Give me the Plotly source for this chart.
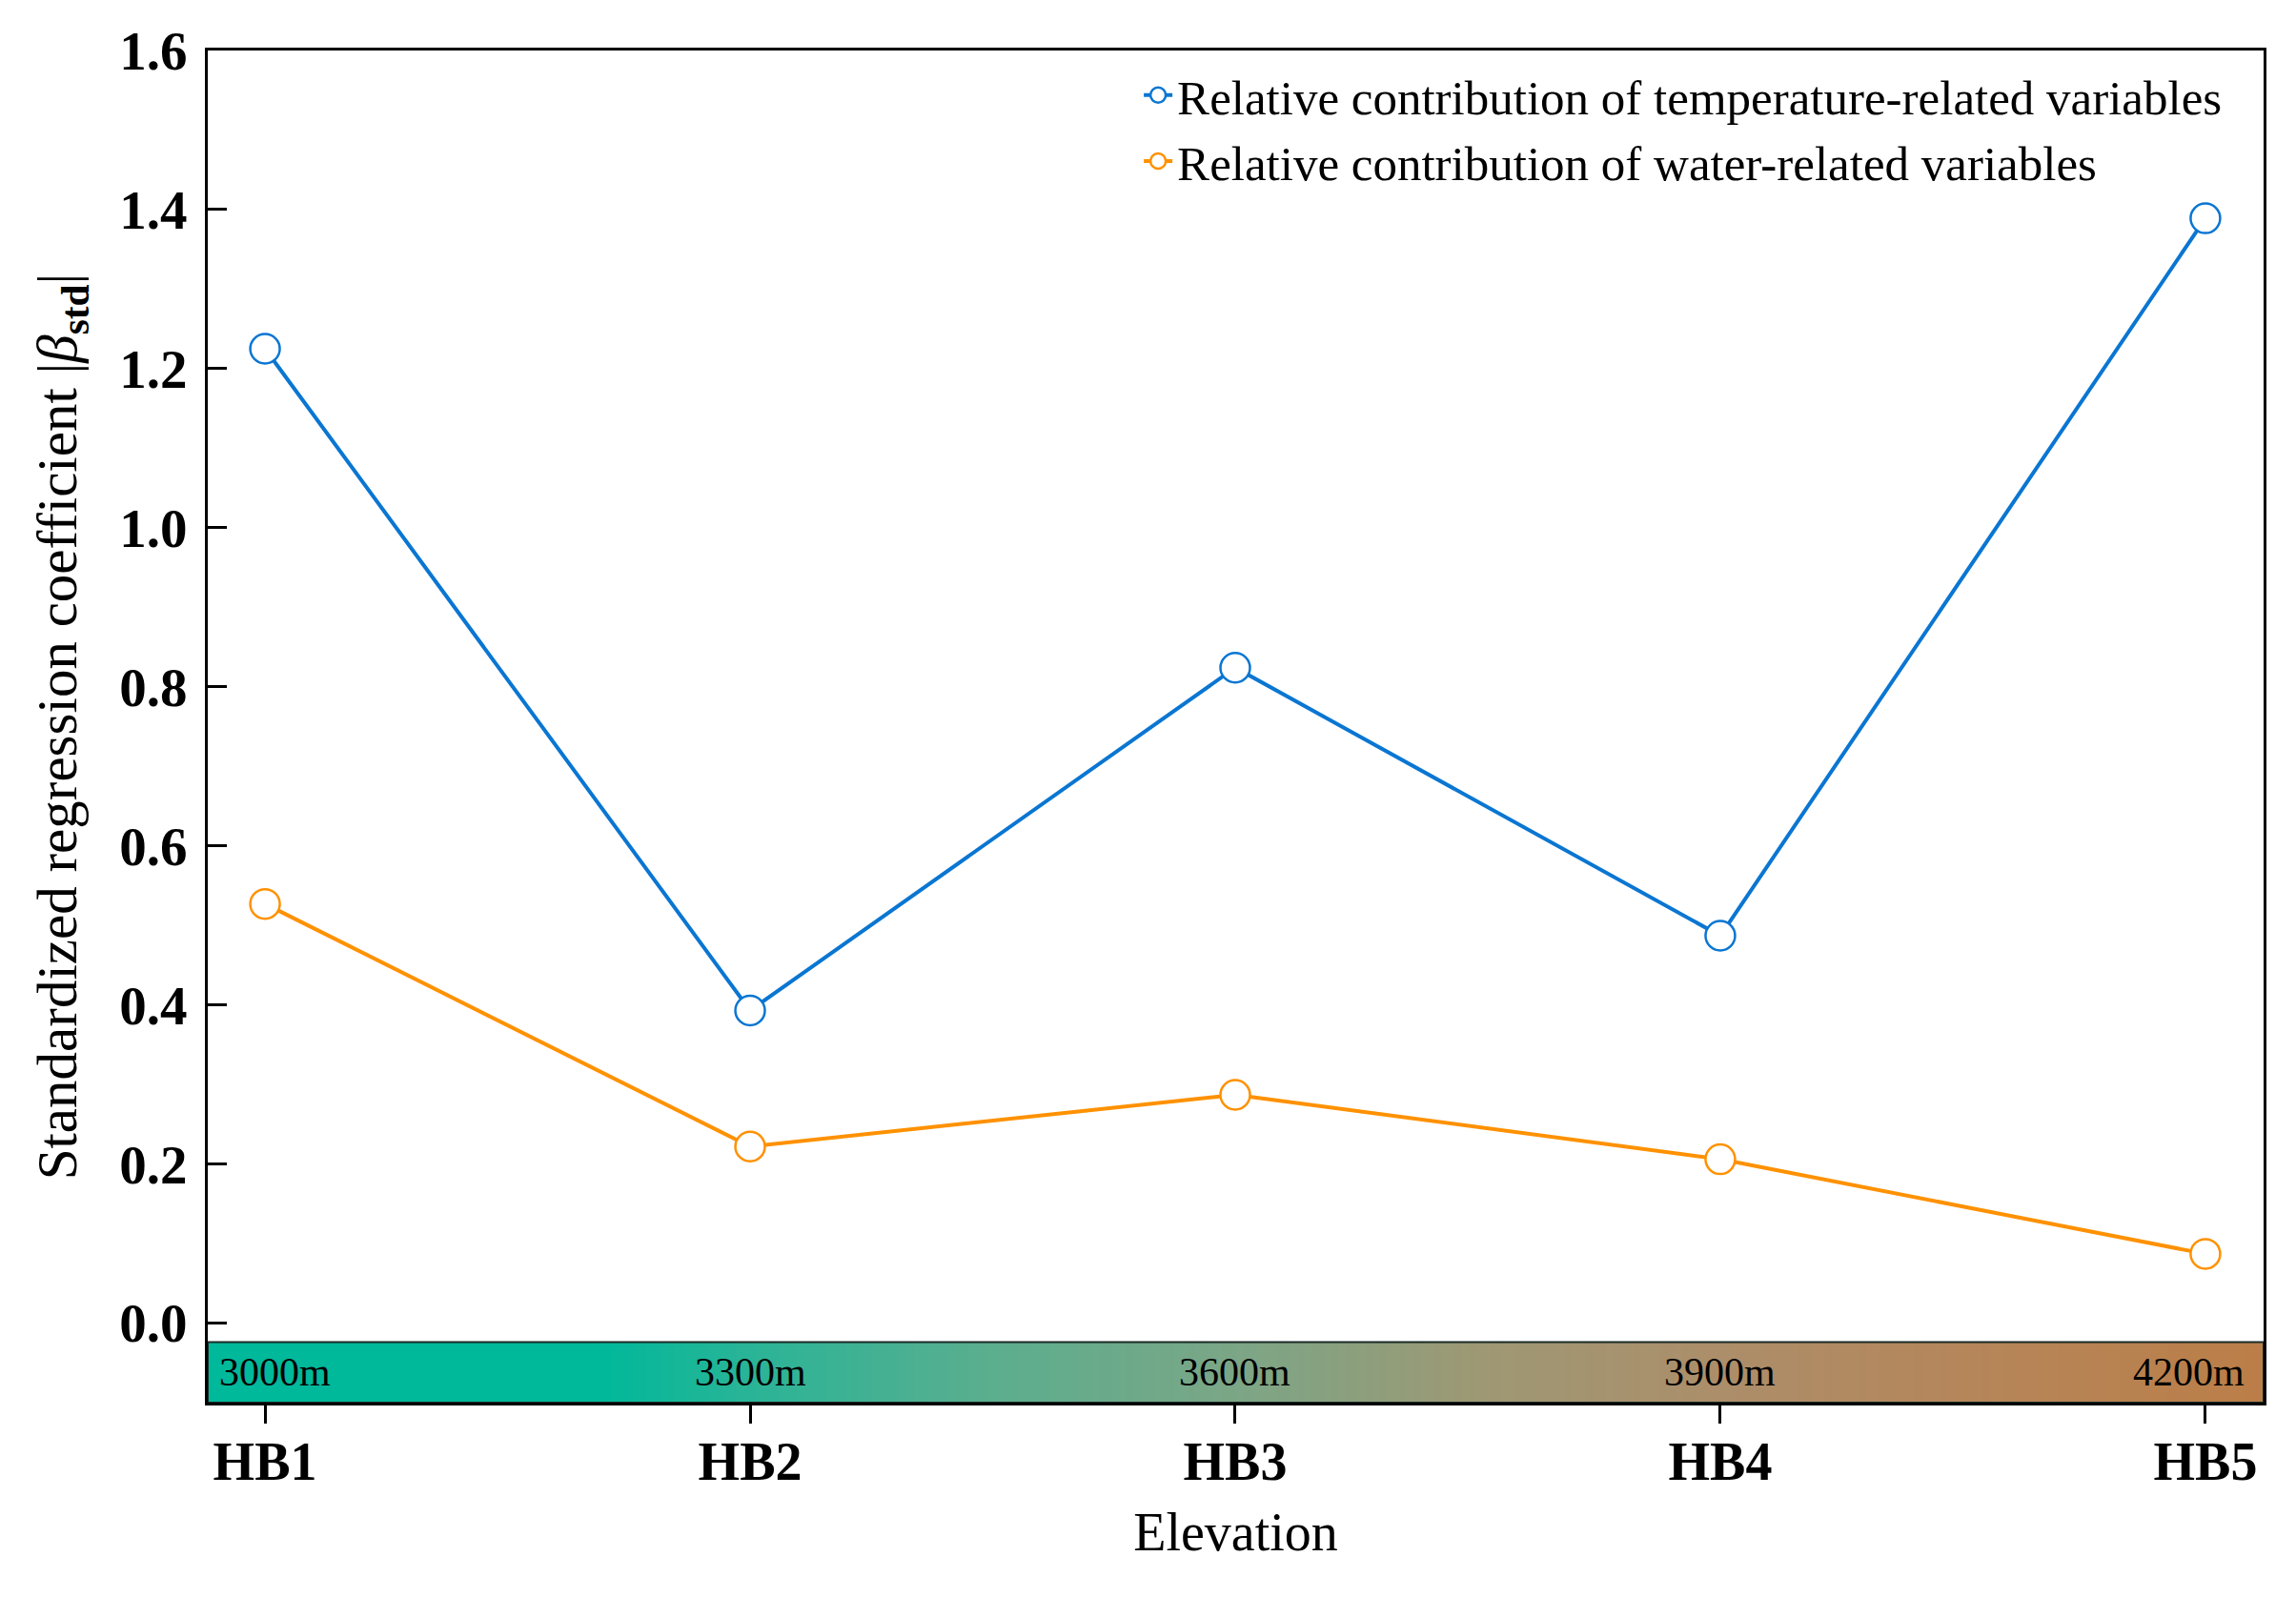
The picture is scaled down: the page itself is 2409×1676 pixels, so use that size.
import numpy as np
import plotly.graph_objects as go

# ---- data ----
sites = ["HB1", "HB2", "HB3", "HB4", "HB5"]
elevations = ["3000m", "3300m", "3600m", "3900m", "4200m"]
temp_contrib = [1.225, 0.393, 0.824, 0.487, 1.389]
water_contrib = [0.527, 0.222, 0.287, 0.206, 0.087]
y_ticks = [0.0, 0.2, 0.4, 0.6, 0.8, 1.0, 1.2, 1.4, 1.6]

x_idx = list(range(len(sites)))
X_RANGE = [-0.118, 4.12]
Y_RANGE = [-0.1, 1.6]
BAR_TOP = -0.024

BLUE = "#0A76D2"
ORANGE = "#FF9100"

fig = go.Figure()

# elevation gradient strip
edges = np.linspace(X_RANGE[0], X_RANGE[1], 301)
centers = (edges[:-1] + edges[1:]) / 2
span = X_RANGE[1] - X_RANGE[0]
def n(v):
    return (v - X_RANGE[0]) / span
grad_stops = [
    (n(X_RANGE[0]), "#00B89A"),
    (n(0.69), "#00B89A"),
    (n(1.0), "#2AB497"),
    (n(1.5), "#5BAE8E"),
    (n(2.0), "#7BA686"),
    (n(2.5), "#9E9874"),
    (n(3.0), "#AC8E6A"),
    (n(3.5), "#B5865A"),
    (1.0, "#BB7E48"),
]
fig.add_trace(go.Heatmap(
    x=edges, y=[Y_RANGE[0], BAR_TOP], z=[centers],
    colorscale=[[p, c] for p, c in grad_stops],
    zmin=X_RANGE[0], zmax=X_RANGE[1],
    showscale=False, hoverinfo="skip",
))

fig.add_trace(go.Scatter(
    x=x_idx, y=temp_contrib, mode="lines+markers",
    name="Relative contribution of temperature-related variables",
    line=dict(color=BLUE, width=4),
    marker=dict(symbol="circle", size=31, color="white", line=dict(color=BLUE, width=2.5)),
))
fig.add_trace(go.Scatter(
    x=x_idx, y=water_contrib, mode="lines+markers",
    name="Relative contribution of water-related variables",
    line=dict(color=ORANGE, width=4),
    marker=dict(symbol="circle", size=31, color="white", line=dict(color=ORANGE, width=2.5)),
))

# border of the strip
fig.add_shape(type="rect", xref="x", yref="y", x0=X_RANGE[0], x1=X_RANGE[1],
              y0=Y_RANGE[0], y1=BAR_TOP, line=dict(color="#1b2b27", width=2), layer="above")

# elevation labels in strip
for i, lab in enumerate(elevations):
    if i == 0:
        kw = dict(x=X_RANGE[0], xanchor="left", xshift=10)
    elif i == len(elevations) - 1:
        kw = dict(x=X_RANGE[1], xanchor="right", xshift=-18)
    else:
        kw = dict(x=x_idx[i], xanchor="center")
    fig.add_annotation(y=-0.062, yanchor="middle", text=lab, showarrow=False,
                       font=dict(family="Liberation Serif", size=42, color="black"), **kw)

serif = "Liberation Serif, Times New Roman, serif"
fig.update_layout(
    width=2409, height=1676,
    margin=dict(l=218, r=34, t=53, b=204),
    paper_bgcolor="white", plot_bgcolor="white",
    font=dict(family=serif, color="black"),
    showlegend=True,
    legend=dict(x=0.453, y=0.995, xanchor="left", yanchor="top",
                font=dict(family=serif, size=51, color="black"),
                bgcolor="rgba(0,0,0,0)", itemwidth=30, tracegroupgap=0),
    xaxis=dict(
        range=X_RANGE, tickmode="array", tickvals=x_idx, ticktext=sites,
        showgrid=False, zeroline=False, showline=True, linecolor="black", linewidth=3,
        mirror=True, ticks="outside", ticklen=19, tickwidth=3, tickcolor="black",
        ticklabelstandoff=-8,
        tickfont=dict(family=serif, size=56, color="black", weight="bold"),
        title=dict(text="Elevation", font=dict(family=serif, size=56, color="black"), standoff=24),
    ),
    yaxis=dict(
        range=Y_RANGE, tickmode="array", tickvals=y_ticks, tickformat=".1f",
        showgrid=False, zeroline=False, showline=True, linecolor="black", linewidth=3,
        mirror=True, ticks="inside", ticklen=20, tickwidth=3, tickcolor="black",
        ticklabelstandoff=7,
        tickfont=dict(family=serif, size=57, color="black", weight="bold"),
        title=dict(text="Standardized regression coefficient |<i>β</i><sub><b>std</b></sub>|",
                   font=dict(family=serif, size=59, color="black"), standoff=26),
    ),
)

fig.write_html("out.html")
